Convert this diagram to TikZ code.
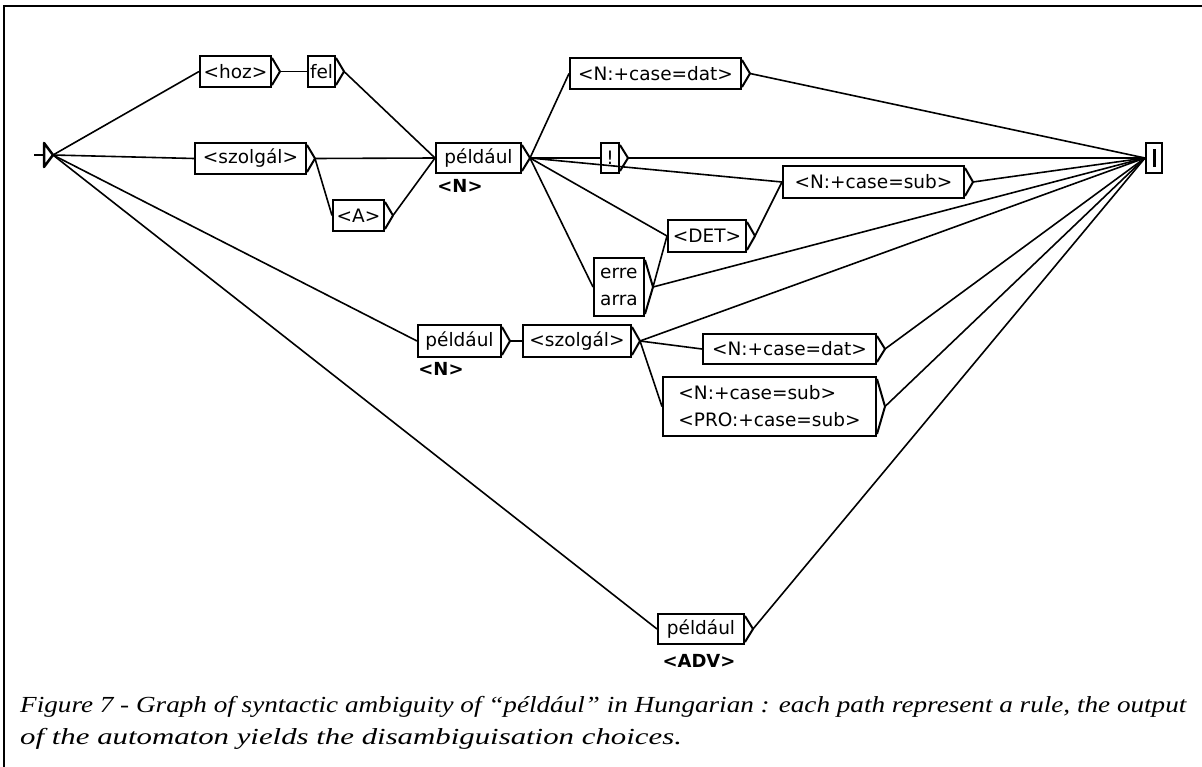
\documentclass[tikz,border=0pt]{standalone}
\usepackage{fontspec}
\setmainfont{Liberation Serif}
\newfontfamily\boxfont{DejaVu Sans}
\begin{document}
\begin{tikzpicture}[x=1pt,y=-1pt,
  box/.style={draw, line width=2pt, inner sep=2pt, anchor=north west,
    font=\boxfont\fontsize{18.5}{27}\selectfont},
  conn/.style={line width=1.6pt},
  tri/.style={line width=2pt, line join=round},
  lab/.style={font=\boxfont\bfseries\fontsize{18}{20}\selectfont, inner sep=0pt},
  captext/.style={anchor=base west, inner sep=0pt, font=\itshape\fontsize{23}{30}\selectfont}]
\useasboundingbox (0,0) rectangle (1202,767);
% frame
\draw[line width=2pt] (4,767) -- (4,6) -- (1202,6);

% initial state
\coordinate (i1) at (44,143);
\coordinate (i2) at (44,167);
\coordinate (init) at (53,155);
\coordinate (stub) at (34,155);
\draw[tri, line width=2.5pt] (i1) -- (init) -- (i2) -- cycle;
\draw[conn] (stub) -- (i1 |- init);

% final state
\node[draw, line width=2pt, minimum width=16pt, minimum height=30pt, inner sep=0pt, anchor=north west] (fin) at (1145,142) {};
\node[fill=black, minimum width=3pt, minimum height=18pt, inner sep=0pt] (finbar) at (fin.center) {};

% boxes
\node[box, minimum width=71pt, minimum height=31pt] (hoz) at (199,55) {<hoz>};
\node[box, minimum width=27pt, minimum height=31pt] (fel) at (307,55) {fel};
\node[box, minimum width=111pt, minimum height=31pt] (szt) at (194,142) {<szolgál>};
\node[box, minimum width=51pt, minimum height=31pt] (A) at (332,199) {<A>};
\node[box, minimum width=85pt, minimum height=30pt] (pt) at (435,142) {például};
\node[lab] (ptl) at (460,186) {<N>};
\node[box, minimum width=171pt, minimum height=31pt] (datt) at (569,57) {<N:+case=dat>};
\node[box, minimum width=18pt, minimum height=30pt] (excl) at (600,142) {!};
\node[box, minimum width=181pt, minimum height=32pt] (subt) at (782,165) {<N:+case=sub>};
\node[box, minimum width=78pt, minimum height=32pt] (det) at (667,219) {<DET>};
\node[box, minimum width=50pt, minimum height=58pt, align=left] (erre) at (593,257) {erre\\arra};
\node[box, minimum width=83pt, minimum height=32pt] (pl) at (417,324) {például};
\node[lab] (pll) at (441,369) {<N>};
\node[box, minimum width=108pt, minimum height=32pt] (szl) at (522,324) {<szolgál>};
\node[box, minimum width=173pt, minimum height=30pt] (datl) at (702,333) {<N:+case=dat>};
\node[box, minimum width=213pt, minimum height=59pt, align=left] (subpro) at (662,376) {<N:+case=sub>\\<PRO:+case=sub>};
\node[box, minimum width=86pt, minimum height=30pt] (adv) at (657,613) {például};
\node[lab] (advl) at (699,661) {<ADV>};

% output triangles and exit points
\foreach \n in {hoz,fel,szt,A,pt,datt,excl,subt,det,erre,pl,szl,datl,subpro,adv}{
  \draw[tri] ([yshift=-3pt]\n.north east) -- ([xshift=8pt]\n.east) -- ([yshift=3pt]\n.south east);
  \coordinate (\n-o) at ([xshift=8pt]\n.east);
}

% connectors
\draw[conn] (init) -- (hoz.west);
\draw[conn] (init) -- (szt.west);
\draw[conn] (init) -- (pl.west);
\draw[conn] (init) -- (adv.west);
\draw[conn] (hoz-o) -- (fel.west);
\draw[conn] (fel-o) -- (pt.west);
\draw[conn] (szt-o) -- (pt.west);
\draw[conn] (szt-o) -- (A.west);
\draw[conn] (A-o) -- (pt.west);
\draw[conn] (pt-o) -- (datt.west);
\draw[conn] (pt-o) -- (excl.west);
\draw[conn] (pt-o) -- (subt.west);
\draw[conn] (pt-o) -- (det.west);
\draw[conn] (pt-o) -- (erre.west);
\draw[conn] (excl-o) -- (fin.west);
\draw[conn] (datt-o) -- (fin.west);
\draw[conn] (subt-o) -- (fin.west);
\draw[conn] (det-o) -- (subt.west);
\draw[conn] (erre-o) -- (det.west);
\draw[conn] (erre-o) -- (fin.west);
\draw[conn] (pl-o) -- (szl.west);
\draw[conn] (szl-o) -- (fin.west);
\draw[conn] (szl-o) -- (datl.west);
\draw[conn] (szl-o) -- (subpro.west);
\draw[conn] (datl-o) -- (fin.west);
\draw[conn] (subpro-o) -- (fin.west);
\draw[conn] (adv-o) -- (fin.west);

% caption
\node[captext] (cap1) at (20,712) {\resizebox{1166pt}{\height}{Figure 7 - Graph of syntactic ambiguity of “például” in Hungarian : each path represent a rule, the output}};
\node[captext] (cap2) at (20,744) {\scalebox{1.34}[1]{of the automaton yields the disambiguisation choices.}};
\end{tikzpicture}
\end{document}
